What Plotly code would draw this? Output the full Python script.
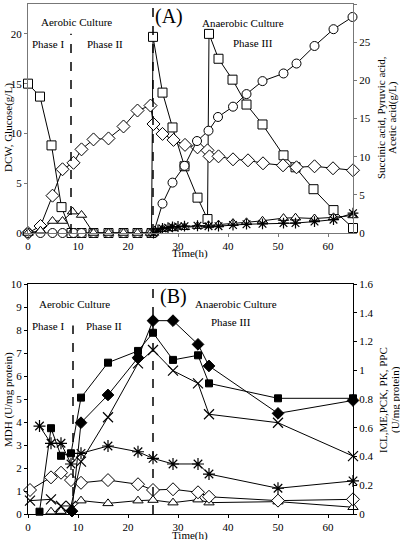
import plotly.graph_objects as go

# ---------------- Panel A data ----------------
t_dcw = [0, 2.5, 4.9, 6.9, 9.1, 10.7, 13.1, 16.1, 19.1, 21.9, 24.5, 25.1, 26.9, 29.1, 31.4, 33.9, 35.9, 36.3,
         38.1, 41.0, 44.0, 47.0, 51.0, 53.7, 57.3, 61.0, 65.0]
dcw = [0, 0.7, 3.75, 6.4, 7.05, 8.4, 9.4, 9.5, 10.7, 12.3, 12.8, 10.95, 9.95, 9.35, 8.85, 8.6, 8.3, 7.7,
       7.7, 7.4, 7.3, 7.0, 6.8, 6.6, 6.7, 6.5, 6.3]

t_glc = [0, 2.4, 4.7, 6.7, 8.7, 10.7, 13.1, 16.1, 19.1, 21.9, 24.7, 25.0, 26.9, 28.9, 31.3, 33.9, 35.9, 36.2,
         38.1, 40.9, 43.7, 46.9, 51.1, 53.5, 57.1, 61.1, 65.0]
glucose = [15.0, 13.7, 8.8, 2.6, 0, 0, 0, 0, 0, 0, 0, 19.7, 14.1, 10.6, 6.7, 3.55, 1.4, 20.0,
           17.5, 15.4, 12.9, 10.9, 7.8, 6.6, 4.4, 2.3, 0.5]

t_suc = [0, 2.5, 4.9, 6.9, 9.1, 10.7, 13.1, 16.1, 19.1, 21.9, 24.5, 25.1, 26.9, 28.9, 31.3, 33.8, 36.1,
         38.0, 41.0, 43.7, 46.9, 51.1, 53.7, 57.3, 61.1, 64.9]
succinic = [0, 0, 0, 0, 0, 0, 0, 0, 0, 0, 0, 0, 3.85, 6.6, 8.8, 12.05, 13.4,
            15.2, 16.55, 18.2, 19.9, 20.9, 22.2, 24.5, 26.7, 28.3]

t_pyr = [0, 2.5, 4.9, 6.9, 8.9, 10.7, 13.1, 16.1, 19.1, 21.9, 24.5, 25.1, 26.9, 28.9, 31.3, 33.9, 36.1,
         38.1, 41.0, 43.7, 46.9, 51.1, 53.5, 57.3, 61.1, 65.0]
pyruvic = [0, 0.3, 1.57, 1.57, 2.8, 2.36, 0, 0, 0, 0, 0, 0, 0.5, 0.6, 0.75, 0.9, 1.0,
           1.1, 1.3, 1.4, 1.6, 1.95, 2.0, 1.9, 2.05, 2.3]

t_ace = [25.1, 26.0, 26.9, 28.0, 28.9, 30.0, 31.3, 33.9, 36.1, 38.1, 41.0, 43.7, 46.9, 51.1, 53.5, 57.3, 61.1, 65.0]
acetic = [0, 0.4, 0.6, 0.7, 0.8, 0.85, 0.9, 0.95, 0.9, 0.9, 1.05, 1.15, 1.2, 1.3, 1.3, 1.5, 1.75, 2.6]

phase_A = [8.6, 25.0]

# ---------------- Panel B data ----------------
t_B = [2.3, 4.6, 6.6, 8.6, 10.6, 16, 22, 25, 29, 34, 36.2, 50, 65]
t_B2 = [0.4, 4.6, 6.6, 8.6, 10.6, 16, 22, 25, 29, 34, 36.2, 50, 65]
t_B3 = [4.6, 6.6, 8.6, 10.6, 16, 22, 25, 29, 34, 36.2, 50, 65]
t_B4 = [8.8, 10.6, 16, 22, 25, 29, 34, 36.2, 50, 65]
mdh = [0.1, 3.73, 2.53, 2.64, 5.06, 6.58, 7.09, 7.88, 6.7, 6.9, 5.68, 5.03, 5.03]
filled_diamond = [0.02, 0.635, 0.828, 1.087, 1.345, 1.345, 1.18, 1.03, 0.70, 0.79]
x_series = [0.093, 0.102, 0.056, 0.056, 0.364, 0.673, 1.048, 1.141, 0.997, 0.909, 0.694, 0.635, 0.403]
star_series = [0.612, 0.492, 0.492, 0.348, 0.422, 0.473, 0.433, 0.387, 0.348, 0.348, 0.278, 0.179, 0.23]
open_diamond = [0.167, 0.255, 0.287, 0.236, 0.217, 0.236, 0.207, 0.167, 0.172, 0.151, 0.12, 0.093, 0.102]
triangle_series = [0.016, 0.02, 0.03, 0.093, 0.074, 0.093, 0.097, 0.079, 0.1, 0.079, 0.086, 0.047]

phase_B = [9.0, 25.0]

FONT = "Liberation Serif, Times New Roman, serif"
fig = go.Figure()


def add(x, y, sym, xa, ya, fill="white", size=9, lw=1):
    mk = dict(symbol=sym, size=size, color=fill, line=dict(color="black", width=lw))
    fig.add_trace(go.Scatter(x=x, y=y, mode="lines+markers", xaxis=xa, yaxis=ya,
                             line=dict(color="black", width=1), marker=mk,
                             showlegend=False, cliponaxis=False))


# Panel A
add(t_glc, glucose, "square", "x", "y")
add(t_dcw, dcw, "diamond", "x", "y", size=10)
add(t_suc, succinic, "circle", "x", "y2")
add(t_pyr, pyruvic, "triangle-up", "x", "y2")
add(t_ace, acetic, "asterisk-open", "x", "y2", fill="black", size=9, lw=1.2)

# Panel B
add(t_B3, triangle_series, "triangle-up", "x2", "y4")
add(t_B2, open_diamond, "diamond", "x2", "y4", size=10)
add(t_B, star_series, "asterisk-open", "x2", "y4", fill="black", size=10, lw=1.2)
add(t_B2, x_series, "x-thin-open", "x2", "y4", fill="black", size=10, lw=1.2)
add(t_B4, filled_diamond, "diamond", "x2", "y4", fill="black", size=9)
add(t_B, mdh, "square", "x2", "y3", fill="black", size=7)

shapes = []
for v in phase_A:
    shapes.append(dict(type="line", xref="x", yref="y", x0=v, x1=v,
                       y0=0, y1=(20 if v < 20 else 23),
                       line=dict(color="black", width=1.5, dash="dash")))
for v in phase_B:
    shapes.append(dict(type="line", xref="x2", yref="y3", x0=v, x1=v,
                       y0=0, y1=(8.2 if v < 20 else 10),
                       line=dict(color="black", width=1.5, dash="dash")))

tickfont = dict(family=FONT, size=11, color="black")
axA = dict(showline=True, linecolor="#777", linewidth=1, mirror=True, ticks="outside",
           ticklen=3, tickcolor="#777", showgrid=False, zeroline=False, tickfont=tickfont)
axB = dict(showline=True, linecolor="black", linewidth=1.3, mirror=True, ticks="outside",
           ticklen=3, tickcolor="black", showgrid=False, zeroline=False, tickfont=tickfont)

annots = []


def txt(x, y, s, size=11, angle=0, xa="paper", ya="paper"):
    annots.append(dict(x=x, y=y, xref=xa, yref=ya, text=s, showarrow=False, textangle=angle,
                       font=dict(family=FONT, size=size, color="black"),
                       xanchor="center", yanchor="middle"))


W, H = 400, 540
L, R, T, B = 28, 47, 4, 26
pw, ph = W - L - R, H - T - B


def px(xp):
    return (xp - L) / pw


def py(yp):
    return (H - B - yp) / ph


# Panel A texts
txt(px(169), py(16), "(A)", size=20)
txt(px(76), py(22), "Aerobic Culture")
txt(px(48), py(44), "Phase I")
txt(px(105), py(44), "Phase II")
txt(px(243), py(23), "Anaerobic Culture")
txt(px(253), py(43), "Phase III")
txt(px(190), py(253), "Time(h)")
txt(px(8), py(128), "DCW, Glucose(g/L)", angle=-90)
txt(px(381), py(118), "Succinic acid, Pyruvic acid,", angle=-90)
txt(px(393), py(118), "Acetic acid(g/L)", angle=-90)

# Panel B texts
txt(px(173), py(296), "(B)", size=20)
txt(px(74), py(304), "Aerobic Culture")
txt(px(48), py(326), "Phase I")
txt(px(104), py(326), "Phase II")
txt(px(236), py(304), "Anaerobic Culture")
txt(px(231), py(322), "Phase III")
txt(px(190), py(535), "Time(h)")
txt(px(8), py(400), "MDH (U/mg protein)", angle=-90)
txt(px(383), py(400), "ICL,ME,PCK, PK, PPC", angle=-90)
txt(px(395), py(400), "(U/mg protein)", angle=-90)

domA = [py(233), 1.0]
domB = [0.0, py(284)]

fig.update_layout(
    width=W, height=H, margin=dict(l=L, r=R, t=T, b=B, autoexpand=False),
    paper_bgcolor="white", plot_bgcolor="white",
    xaxis=dict(axA, range=[0, 65], dtick=10, anchor="y", domain=[0, 1]),
    yaxis=dict(axA, range=[0, 23], tickvals=[0, 5, 10, 15, 20], domain=domA, anchor="x"),
    yaxis2=dict(axA, range=[0, 30], dtick=5, overlaying="y", side="right", anchor="x"),
    xaxis2=dict(axB, range=[0, 65], dtick=10, anchor="y3", domain=[0, 1]),
    yaxis3=dict(axB, range=[0, 10], dtick=1, domain=domB, anchor="x2"),
    yaxis4=dict(axB, range=[0, 1.6], dtick=0.2, overlaying="y3", side="right", anchor="x2"),
    shapes=shapes, annotations=annots,
)

fig.write_html("out.html", config={"displayModeBar": False},
               post_script="document.body.style.margin='0';document.body.style.overflow='hidden';")
